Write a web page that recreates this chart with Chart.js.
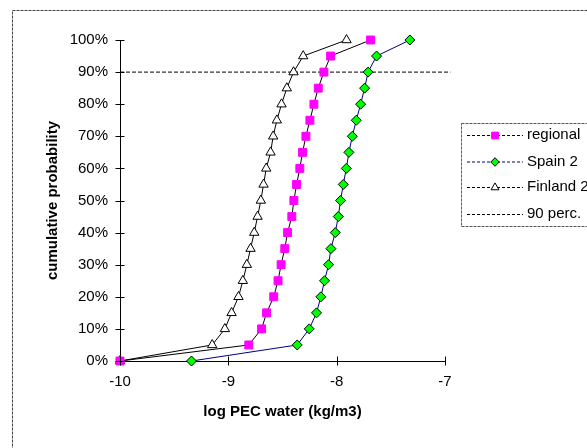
<!DOCTYPE html>
<html>
<head>
<meta charset="utf-8">
<script src="https://cdn.jsdelivr.net/npm/chart.js@4/dist/chart.umd.min.js"></script>
<style>
html,body{margin:0;padding:0;background:#fff;}
#wrap{position:relative;width:587px;height:448px;}
</style>
</head>
<body>
<div id="wrap"><canvas id="c" width="587" height="448"></canvas></div>
<script>
// cumulative probability levels (%)
const probLevels = [0,5,10,15,20,25,30,35,40,45,50,55,60,65,70,75,80,85,90,95,100];
// log PEC water values
const regional = [-10, -8.811, -8.693, -8.647, -8.581, -8.541, -8.513, -8.479, -8.453, -8.414, -8.395, -8.370, -8.340, -8.315, -8.284, -8.247, -8.210, -8.170, -8.118, -8.056, -7.687];
const spain2   = [-9.34, -8.364, -8.253, -8.186, -8.146, -8.112, -8.075, -8.053, -8.013, -7.985, -7.964, -7.939, -7.911, -7.887, -7.856, -7.819, -7.779, -7.742, -7.710, -7.632, -7.324];
const finland2 = [-10, -9.149, -9.032, -8.970, -8.906, -8.866, -8.829, -8.795, -8.761, -8.730, -8.700, -8.675, -8.650, -8.610, -8.586, -8.552, -8.509, -8.460, -8.398, -8.309, -7.909];
const perc90X = [-10, -6.95];
const perc90Y = [90, 90];
const seriesNames = ['regional', 'Spain 2', 'Finland 2', '90 perc.'];
const xTitle = 'log PEC water (kg/m3)';
const yTitle = 'cumulative probability';

const FONT = "'Liberation Sans', Arial, sans-serif";
const pts = (xs, ys) => xs.map((x, i) => ({x: x, y: ys[i]}));

const styles = [
  {pointStyle:'rect', radius:5.6, bg:'#FF00FF', bc:'#FF00FF', bw:1, line:'#000000', dash:[]},
  {pointStyle:'rectRot', radius:5, bg:'#00FF00', bc:'#000000', bw:1, line:'#000080', dash:[]},
  {pointStyle:'triangle', radius:5.4, bg:'#FFFFFF', bc:'#000000', bw:1, line:'#000000', dash:[]},
  {pointStyle:false, radius:0, bg:'#000', bc:'#000', bw:0, line:'#000000', dash:[4,2]}
];
const seriesData = [pts(regional, probLevels), pts(spain2, probLevels), pts(finland2, probLevels), pts(perc90X, perc90Y)];

const datasets = seriesData.map((d, i) => ({
  label: seriesNames[i],
  data: d,
  showLine: true,
  borderColor: styles[i].line,
  borderWidth: 1,
  borderDash: styles[i].dash,
  pointStyle: styles[i].pointStyle,
  pointRadius: styles[i].radius,
  pointHoverRadius: styles[i].radius,
  pointBackgroundColor: styles[i].bg,
  pointBorderColor: styles[i].bc,
  pointBorderWidth: styles[i].bw,
  clip: false,
  tension: 0
}));

const frame = {
  id: 'frame',
  beforeDraw(chart) {
    const ctx = chart.ctx;
    ctx.save();
    ctx.fillStyle = '#fff';
    ctx.fillRect(0, 0, chart.width, chart.height);
    ctx.strokeStyle = '#444';
    ctx.lineWidth = 1;
    ctx.setLineDash([3, 1]);
    ctx.strokeRect(12.5, 10.5, 700, 600);
    ctx.restore();
  },
  afterDraw(chart) {
    const ctx = chart.ctx;
    const xs = chart.scales.x, ys = chart.scales.y;
    ctx.save();
    ctx.strokeStyle = '#000';
    ctx.lineWidth = 1;
    ctx.setLineDash([]);
    ys.ticks.forEach(t => {
      const py = Math.round(ys.getPixelForValue(t.value)) + 0.5;
      ctx.beginPath(); ctx.moveTo(xs.left - 4.5, py); ctx.lineTo(xs.left + 4.5, py); ctx.stroke();
    });
    xs.ticks.forEach(t => {
      const px = Math.round(xs.getPixelForValue(t.value)) + 0.5;
      ctx.beginPath(); ctx.moveTo(px, ys.bottom - 4.5); ctx.lineTo(px, ys.bottom + 4.5); ctx.stroke();
    });
    // legend
    const bx = 461.5, by = 123.5;
    ctx.fillStyle = '#fff';
    ctx.fillRect(bx, by, 200, 103);
    ctx.strokeStyle = '#555';
    ctx.setLineDash([3, 1]);
    ctx.strokeRect(bx, by, 200, 103);
    const rowsY = [135, 161.5, 187, 214];
    ctx.font = '15px ' + FONT;
    ctx.textBaseline = 'middle';
    ctx.textAlign = 'left';
    seriesNames.forEach((name, i) => {
      const y = rowsY[i] + 0.5;
      ctx.strokeStyle = styles[i].line;
      ctx.setLineDash([3, 2]);
      ctx.lineWidth = 1;
      ctx.beginPath(); ctx.moveTo(467, y); ctx.lineTo(523, y); ctx.stroke();
      ctx.setLineDash([]);
      if (styles[i].pointStyle) {
        ctx.fillStyle = styles[i].bg;
        ctx.strokeStyle = styles[i].bc;
        ctx.lineWidth = styles[i].bw;
        Chart.helpers.drawPoint(ctx, {pointStyle: styles[i].pointStyle, radius: styles[i].radius * 0.85, borderWidth: styles[i].bw}, 495, y);
      }
      ctx.fillStyle = '#000';
      ctx.fillText(name, 527, rowsY[i]);
    });
    ctx.restore();
  }
};

Chart.defaults.font.family = FONT;
Chart.defaults.font.size = 15;
Chart.defaults.color = '#000';

new Chart(document.getElementById('c'), {
  type: 'scatter',
  data: { datasets: datasets },
  options: {
    responsive: false,
    devicePixelRatio: 1,
    animation: false,
    events: [],
    layout: { padding: { left: 0, top: 40, right: 142, bottom: 0 } },
    plugins: { legend: { display: false }, tooltip: { enabled: false } },
    scales: {
      x: {
        type: 'linear', min: -10, max: -7,
        ticks: { stepSize: 1, padding: 12, font: { size: 15 }, color: '#000' },
        grid: { display: true, drawOnChartArea: false, drawTicks: false, color: '#000' },
        border: { display: true, color: '#000', dash: [4, 2], width: 1 },
        title: { display: true, text: xTitle, font: { size: 15, weight: 'bold' }, color: '#000', padding: { top: 0, bottom: 27 } },
        afterFit(s) { s.height = 87; }
      },
      y: {
        type: 'linear', min: 0, max: 100,
        ticks: { stepSize: 10, padding: 12, font: { size: 15 }, color: '#000', callback: v => v + '%' },
        grid: { display: true, drawOnChartArea: false, drawTicks: false, color: '#000' },
        border: { display: true, color: '#000', dash: [4, 2], width: 1 },
        title: { display: true, text: yTitle, font: { size: 15, weight: 'bold' }, color: '#000', padding: { top: 44, bottom: 0 } },
        afterFit(s) { s.width = 120; }
      }
    }
  },
  plugins: [frame]
});
</script>
</body>
</html>
